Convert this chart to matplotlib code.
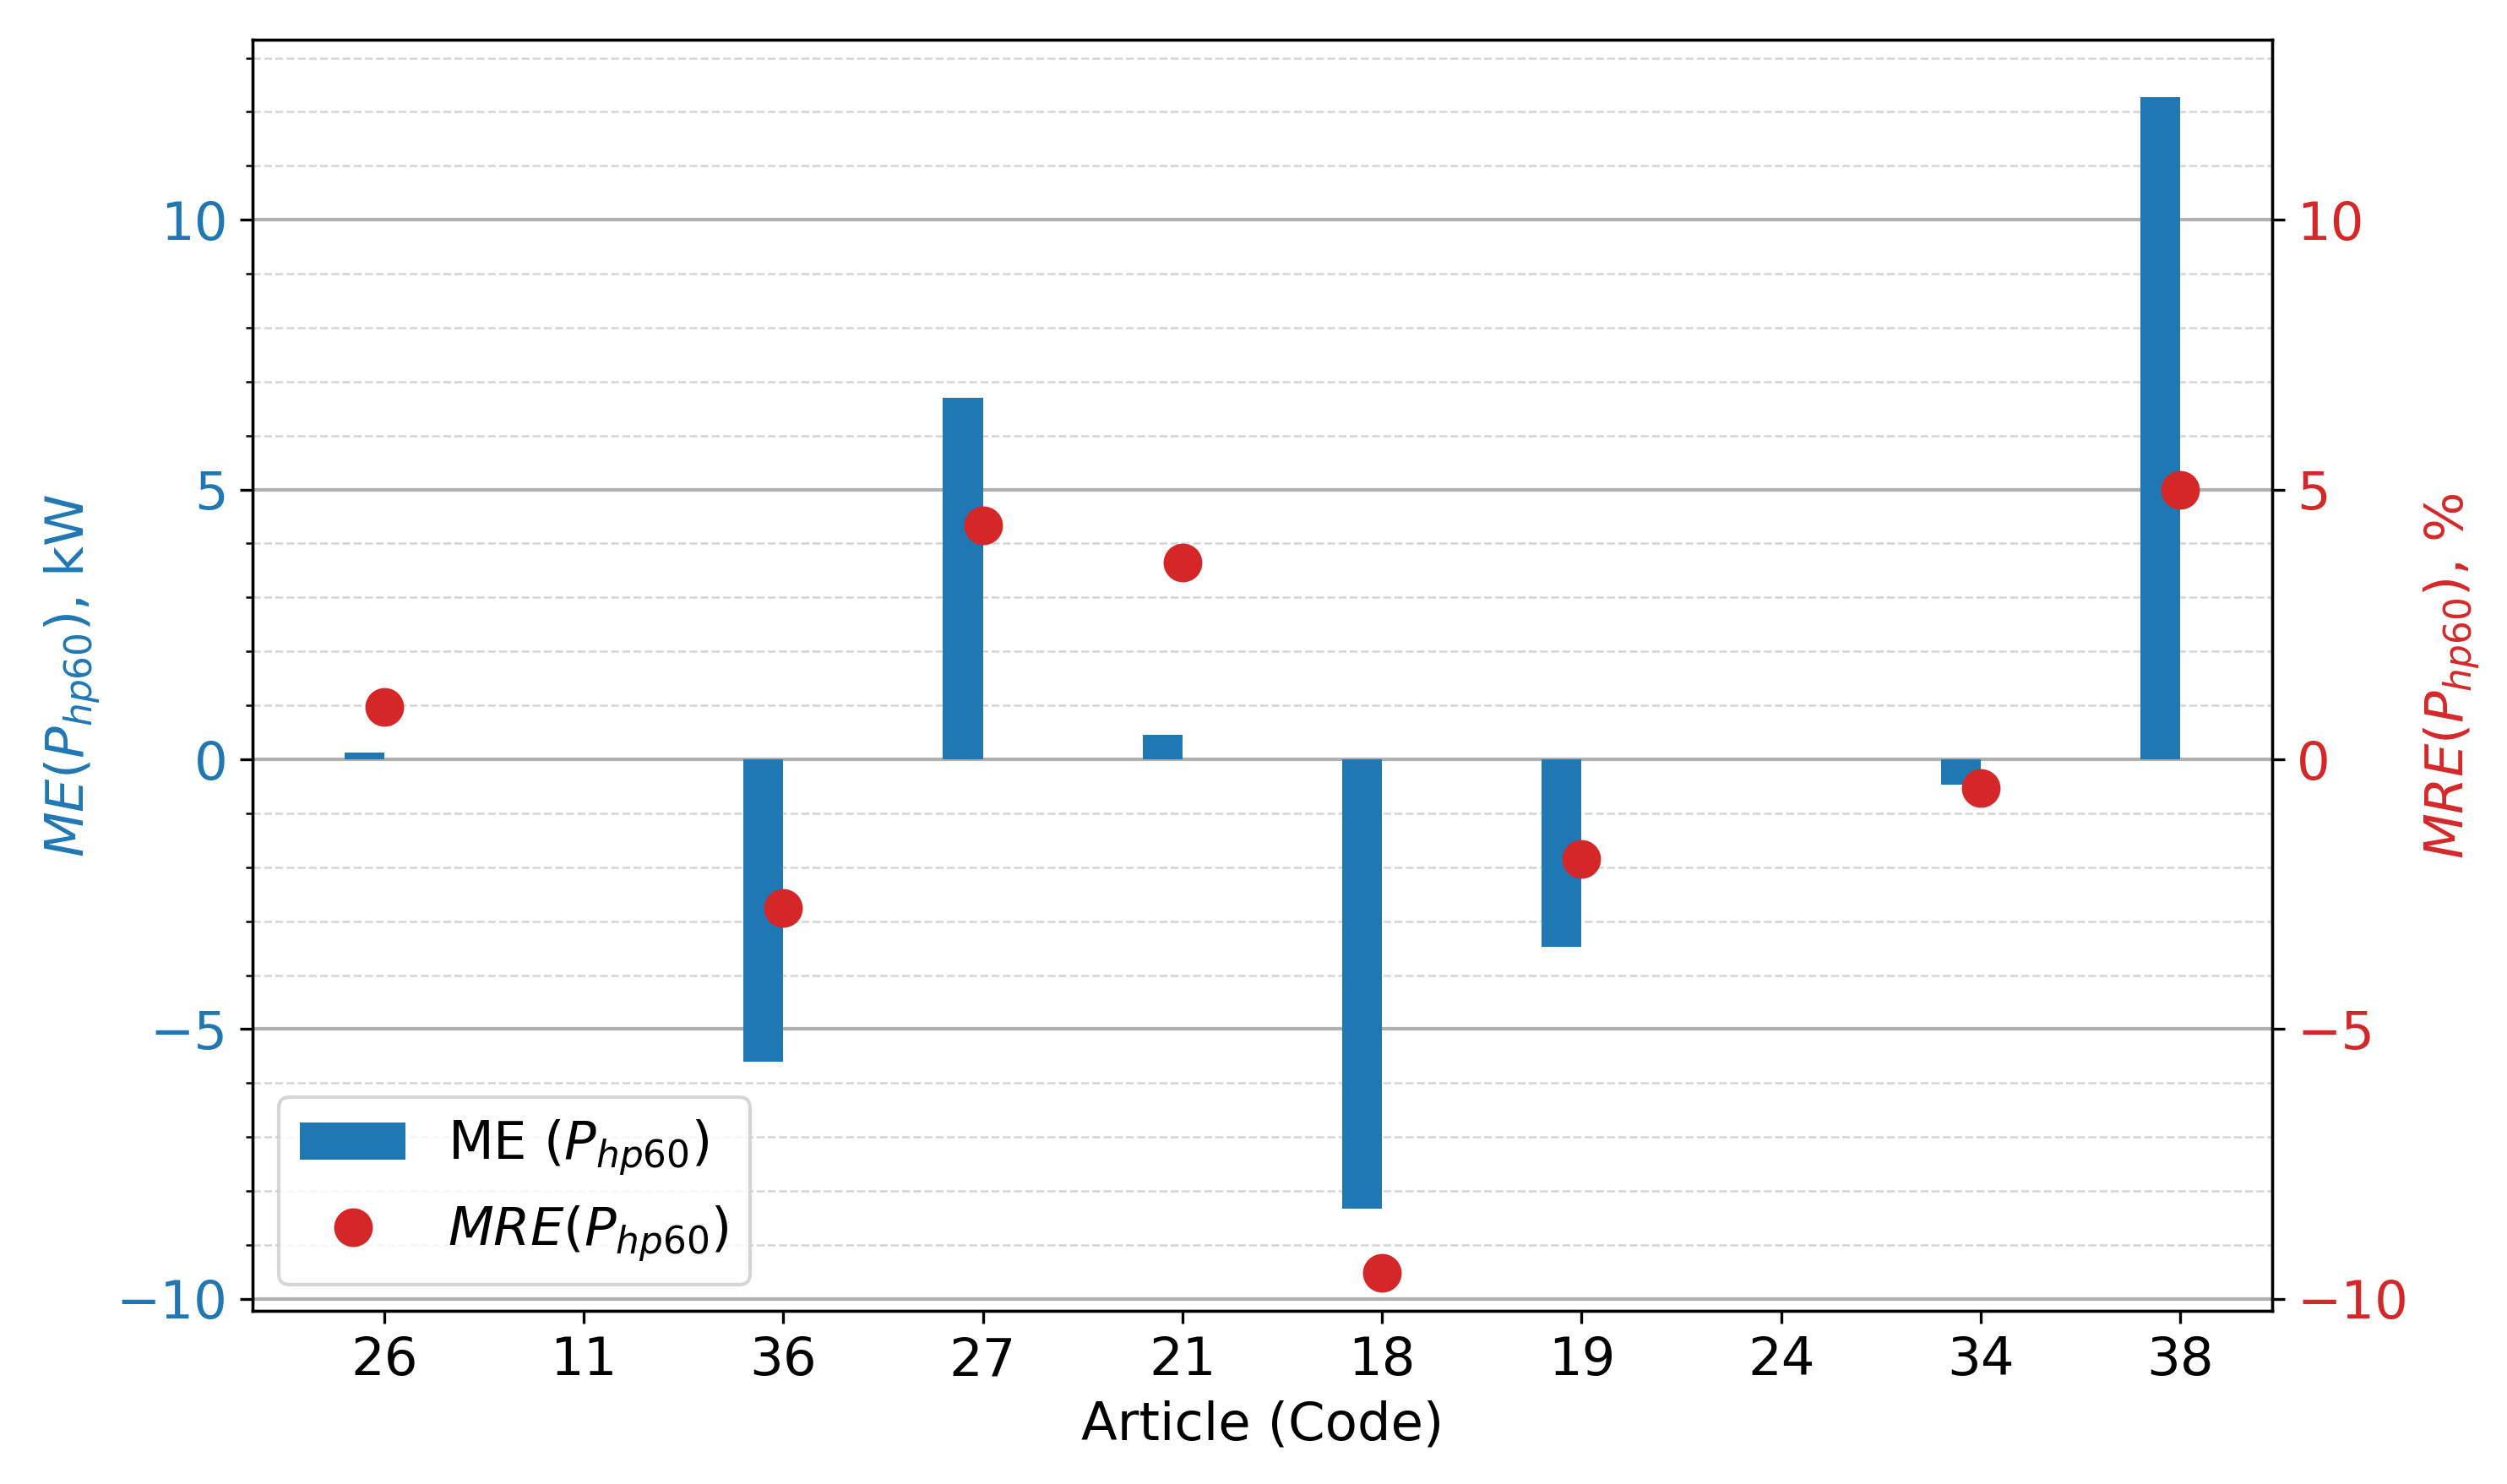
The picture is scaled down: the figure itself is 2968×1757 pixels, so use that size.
import numpy as np
import matplotlib
matplotlib.use("Agg")
import matplotlib.pyplot as plt
from matplotlib.ticker import MultipleLocator

codes = ["26", "11", "36", "27", "21", "18", "19", "24", "34", "38"]
me_kw = [0.12, 0.0, -5.6, 6.7, 0.45, -8.33, -3.47, 0.0, -0.47, 12.27]
mre_pct = [0.97, np.nan, -2.76, 4.33, 3.64, -9.51, -1.84, np.nan, -0.53, 5.0]

blue = "#1f77b4"
red = "#d62728"
fs = 15

fig = plt.figure(figsize=(2968 / 300, 1757 / 300), dpi=300)
ax = fig.add_axes([0.1007, 0.1167, 0.9063 - 0.1007, 0.973 - 0.1167])
x = np.arange(len(codes))
width = 0.2
bars = ax.bar(x - width / 2, me_kw, width=width, color=blue, label="ME ($P_{hp60}$)", zorder=2)
ax.set_xticks(x)
ax.set_xticklabels(codes, fontsize=fs)
ax.set_xlabel("Article (Code)", fontsize=fs)
ax.set_ylabel("$ME(P_{hp60})$, kW", color=blue, fontsize=fs)
ax.tick_params(axis="y", labelcolor=blue, labelsize=fs)
ax.yaxis.set_major_locator(MultipleLocator(5))
ax.yaxis.set_minor_locator(MultipleLocator(1))
ax.set_axisbelow(True)
ax.grid(axis="y", which="major", color="#b0b0b0", linewidth=1.0, linestyle="-")
ax.grid(axis="y", which="minor", color="#d5d5d5", linewidth=0.6, linestyle="--")

ax2 = ax.twinx()
pts, = ax2.plot(x, mre_pct, "o", color=red, markersize=10, label="$MRE(P_{hp60})$", zorder=3)
ax2.set_ylabel("$MRE(P_{hp60})$, %", color=red, fontsize=fs)
ax2.tick_params(axis="y", labelcolor=red, labelsize=fs)
ax2.yaxis.set_major_locator(MultipleLocator(5))

ylim = (-10.22, 13.33)
ax.set_ylim(*ylim)
ax2.set_ylim(*ylim)

ax.legend([bars, pts], ["ME ($P_{hp60}$)", "$MRE(P_{hp60})$"], loc="lower left", fontsize=fs)

fig.savefig("out.png", dpi=300)
